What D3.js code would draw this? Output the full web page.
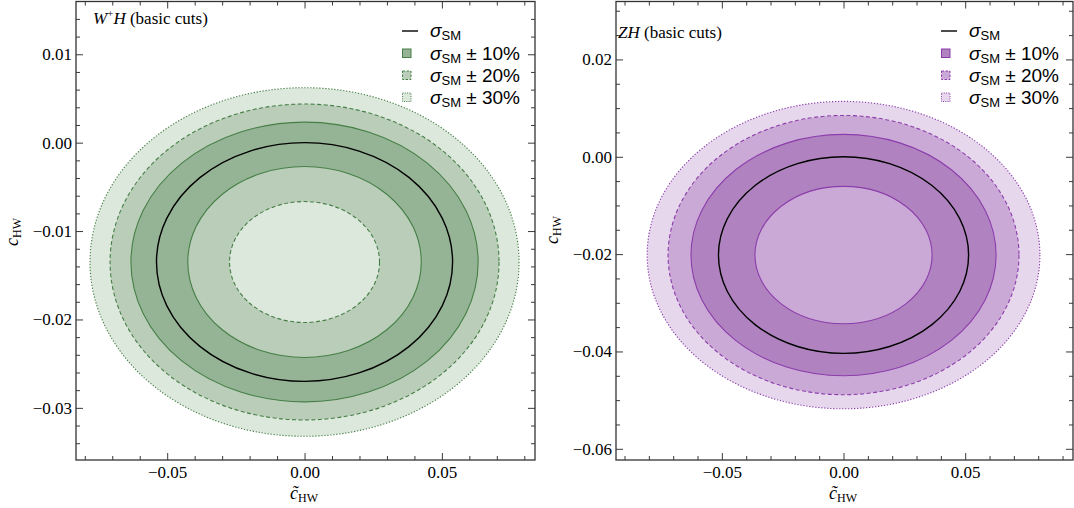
<!DOCTYPE html>
<html>
<head>
<meta charset="utf-8">
<script src="https://cdn.jsdelivr.net/npm/d3@7"></script>
<style>
  body { margin: 0; background: #fff; }
  svg { display: block; }
  .tick text { font-family: 'Liberation Serif', 'Times New Roman', serif; }
</style>
</head>
<body>
<svg id="chart" width="1074" height="508"></svg>
<script>
// Contour levels of sigma / sigma_SM - 1, ordered from the outermost ellipse inwards.
// Each contour is an ellipse centred at (0, center) with semi-axes rx (c~HW) and ry (cHW).
const wLevels = [0.3, 0.2, 0.1, 0, -0.1, -0.2];
const wRx = [0.0781, 0.0708, 0.0632, 0.0539, 0.0425, 0.0273];
const wRy = [0.01972, 0.01787, 0.01582, 0.0135, 0.0108, 0.00684];
const wCenter = -0.0135;
const wXTicks = [-0.05, 0, 0.05];
const wYTicks = [0.01, 0, -0.01, -0.02, -0.03];

const zLevels = [0.3, 0.2, 0.1, 0, -0.1];
const zRx = [0.0807, 0.0721, 0.0627, 0.0514, 0.0364];
const zRy = [0.03158, 0.02869, 0.0248, 0.0202, 0.01411];
const zCenter = -0.0202;
const zXTicks = [-0.05, 0, 0.05];
const zYTicks = [0.02, 0, -0.02, -0.04, -0.06];

// Uncertainty bands around sigma_SM
const bands = [0.1, 0.2, 0.3];
const bandLabels = ["10%", "20%", "30%"];

const svg = d3.select("#chart");
const serif = "'Liberation Serif', 'Times New Roman', serif";
const sans = "'Liberation Sans', Arial, sans-serif";

const panels = [
  {
    title: [{ t: "W", it: true }, { t: "+", sup: true }, { t: "H", it: true }, { t: " (basic cuts)" }],
    titlePos: [93, 24],
    levels: wLevels, rx: wRx, ry: wRy, center: wCenter,
    xTicks: wXTicks, yTicks: wYTicks, xMinor: 0.01, yMinor: 0.002,
    px: [76, 535], py: [1.5, 460],
    xDomain: [-0.0832, 0.0839], yDomain: [-0.0359, 0.01597],
    yTitle: [18, 232], xTitleX: 304,
    legendX: 402,
    shades: ["#dde8dd", "#b9cdb9", "#95b495"],
    line: "#467f46"
  },
  {
    title: [{ t: "ZH", it: true }, { t: " (basic cuts)" }],
    titlePos: [618, 38],
    levels: zLevels, rx: zRx, ry: zRy, center: zCenter,
    xTicks: zXTicks, yTicks: zYTicks, xMinor: 0.01, yMinor: 0.005,
    px: [616, 1073], py: [1.5, 460],
    xDomain: [-0.0935, 0.0943], yDomain: [-0.0623, 0.0319],
    yTitle: [558, 230], xTitleX: 843,
    legendX: 941,
    shades: ["#e6d7ec", "#cba9d6", "#b083c0"],
    line: "#8b3dab"
  }
];

function dashFor(level) {
  const a = Math.abs(Math.round(level * 100));
  if (a === 20) return "4,2.5";
  if (a === 30) return "1.3,1.7";
  return null;
}

// number of bands covering the ring just inside the contour at this level
function depthFor(level) {
  if (level > 0) return bands.filter(b => b >= level - 1e-9).length;
  return bands.filter(b => b > -level + 1e-9).length;
}

function minorTicks(domain, step) {
  const lo = Math.ceil(domain[0] / step - 1e-9), hi = Math.floor(domain[1] / step + 1e-9);
  return d3.range(lo, hi + 1).map(i => +(i * step).toFixed(6));
}

panels.forEach((p, pi) => {
  const x = d3.scaleLinear().domain(p.xDomain).range(p.px);
  const y = d3.scaleLinear().domain(p.yDomain).range([p.py[1], p.py[0]]);
  const g = svg.append("g");
  const clipId = "clip" + pi;
  g.append("clipPath").attr("id", clipId).append("rect")
    .attr("x", p.px[0]).attr("y", p.py[0])
    .attr("width", p.px[1] - p.px[0]).attr("height", p.py[1] - p.py[0]);

  const plot = g.append("g").attr("clip-path", `url(#${clipId})`);
  const contours = p.levels.map((lv, i) => ({ level: lv, rx: p.rx[i], ry: p.ry[i] }));

  // filled regions, outermost first
  plot.selectAll("ellipse.fill").data(contours.filter(c => c.level !== 0)).join("ellipse")
    .attr("class", "fill")
    .attr("cx", x(0)).attr("cy", y(p.center))
    .attr("rx", d => x(d.rx) - x(0))
    .attr("ry", d => y(0) - y(d.ry))
    .attr("fill", d => p.shades[depthFor(d.level) - 1]);

  // contour lines
  plot.selectAll("ellipse.line").data(contours).join("ellipse")
    .attr("class", "line")
    .attr("cx", x(0)).attr("cy", y(p.center))
    .attr("rx", d => x(d.rx) - x(0))
    .attr("ry", d => y(0) - y(d.ry))
    .attr("fill", "none")
    .attr("stroke", d => d.level === 0 ? "#000" : p.line)
    .attr("stroke-width", d => d.level === 0 ? 1.4 : 1.1)
    .attr("stroke-dasharray", d => dashFor(d.level));

  // axes with inward ticks on all four sides
  const tickCol = "#3a3a3a";
  const fmt = d3.format(".2f");
  const xMin = minorTicks(p.xDomain, p.xMinor).filter(v => !p.xTicks.some(t => Math.abs(t - v) < 1e-9));
  const yMin = minorTicks(p.yDomain, p.yMinor).filter(v => !p.yTicks.some(t => Math.abs(t - v) < 1e-9));

  const sides = [
    { make: () => d3.axisBottom(x), tr: `translate(0,${p.py[1]})`, major: p.xTicks, minor: xMin, labels: true, pad: 6 },
    { make: () => d3.axisTop(x), tr: `translate(0,${p.py[0]})`, major: p.xTicks, minor: xMin, labels: false, pad: 4 },
    { make: () => d3.axisLeft(y), tr: `translate(${p.px[0]},0)`, major: p.yTicks, minor: yMin, labels: true, pad: 4 },
    { make: () => d3.axisRight(y), tr: `translate(${p.px[1]},0)`, major: p.yTicks, minor: yMin, labels: false, pad: 4 }
  ];
  sides.forEach(s => {
    const gm = g.append("g").attr("transform", s.tr)
      .call(s.make().tickValues(s.major).tickSize(-7).tickPadding(s.pad)
        .tickFormat(s.labels ? fmt : () => ""));
    gm.attr("font-family", serif).attr("font-size", 17);
    gm.select(".domain").remove();
    gm.selectAll("line").attr("stroke", tickCol).attr("stroke-width", 1);
    gm.selectAll("text").attr("fill", "#000");
    if (!s.labels) gm.selectAll("text").remove();
    const gmin = g.append("g").attr("transform", s.tr)
      .call(s.make().tickValues(s.minor).tickSize(-4).tickFormat(() => ""));
    gmin.select(".domain").remove();
    gmin.selectAll("line").attr("stroke", tickCol).attr("stroke-width", 1);
    gmin.selectAll("text").remove();
  });

  // frame
  g.append("rect")
    .attr("x", p.px[0]).attr("y", p.py[0])
    .attr("width", p.px[1] - p.px[0]).attr("height", p.py[1] - p.py[0])
    .attr("fill", "none").attr("stroke", "#333").attr("stroke-width", 1.3);

  // panel title
  const tt = g.append("text").attr("x", p.titlePos[0]).attr("y", p.titlePos[1])
    .style("font-family", serif).style("font-size", "17px").attr("fill", "#000");
  let prevSup = false;
  p.title.forEach(s => {
    const ts = tt.append("tspan").text(s.t);
    if (s.it) ts.style("font-style", "italic");
    if (s.sup) ts.style("font-size", "11px").attr("dy", -7);
    else if (prevSup) ts.attr("dy", 7);
    prevSup = !!s.sup;
  });

  // axis titles
  const xt = g.append("text").attr("x", p.xTitleX).attr("y", 499).attr("text-anchor", "middle")
    .style("font-family", serif).style("font-size", "18px").attr("fill", "#000");
  xt.append("tspan").style("font-style", "italic").text("c\u0303");
  xt.append("tspan").style("font-size", "12px").attr("dy", 3).text("HW");

  const yt = g.append("text")
    .attr("transform", `translate(${p.yTitle[0]},${p.yTitle[1]}) rotate(-90)`)
    .attr("text-anchor", "middle")
    .style("font-family", serif).style("font-size", "18px").attr("fill", "#000");
  yt.append("tspan").style("font-style", "italic").text("c");
  yt.append("tspan").style("font-size", "12px").attr("dy", 3).text("HW");

  // legend
  const lg = g.append("g");
  const lx = p.legendX, rows = [37, 60, 82, 104];
  lg.append("line").attr("x1", lx).attr("x2", lx + 16).attr("y1", rows[0] - 6).attr("y2", rows[0] - 6)
    .attr("stroke", "#000").attr("stroke-width", 1.4);
  const entries = [{ label: null }].concat(bands.map((b, j) => ({ band: b, label: bandLabels[j], idx: j })));
  entries.forEach((e, i) => {
    const by = rows[i];
    if (e.band !== undefined) {
      lg.append("rect").attr("x", lx + 0.5).attr("y", by - 11).attr("width", 8.5).attr("height", 8.5)
        .attr("fill", p.shades[bands.length - 1 - e.idx])
        .attr("stroke", p.line).attr("stroke-width", 1)
        .attr("stroke-dasharray", e.band === 0.3 ? "1,1.3" : e.band === 0.2 ? "2.5,1.5" : null);
    }
    const t = lg.append("text").attr("x", lx + 28).attr("y", by)
      .style("font-family", sans).style("font-size", "19px").attr("fill", "#000");
    t.append("tspan").style("font-style", "italic").text("\u03C3");
    t.append("tspan").style("font-size", "13px").attr("dy", 3).text("SM");
    if (e.label) t.append("tspan").attr("dy", -3).text(" \u00B1 " + e.label);
  });
});
</script>
</body>
</html>
